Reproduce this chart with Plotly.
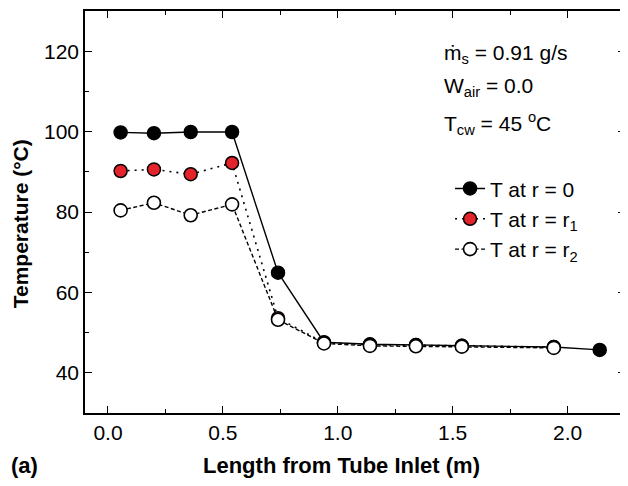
import plotly.graph_objects as go

# Data
x_len = [0.055, 0.2, 0.36, 0.54, 0.74, 0.94, 1.14, 1.34, 1.54, 1.94, 2.14]
t_r0 = [99.8, 99.6, 99.9, 99.9, 64.9, 47.6, 47.1, 46.9, 46.7, 46.4, 45.7]
x_r1 = [0.055, 0.2, 0.36, 0.54, 0.74, 0.94, 1.14, 1.34, 1.54, 1.94]
t_r1 = [90.2, 90.6, 89.4, 92.2, 53.6, 47.5, 47.0, 46.9, 46.7, 46.4]
x_r2 = [0.055, 0.2, 0.36, 0.54, 0.74, 0.94, 1.14, 1.34, 1.54, 1.94]
t_r2 = [80.4, 82.3, 79.2, 81.9, 53.2, 47.3, 46.7, 46.6, 46.5, 46.2]

x_ticks = [0.0, 0.5, 1.0, 1.5, 2.0]
x_ticklabels = ["0.0", "0.5", "1.0", "1.5", "2.0"]
y_ticks = [40, 60, 80, 100, 120]
y_ticklabels = ["40", "60", "80", "100", "120"]

FONT = "Liberation Sans, Arial, Helvetica, sans-serif"

fig = go.Figure()
fig.add_trace(go.Scatter(
    x=x_len, y=t_r0, mode="lines+markers", name="T at r = 0",
    line=dict(color="black", width=1.4),
    marker=dict(symbol="circle", size=13, color="black", line=dict(color="black", width=1.5)),
))
fig.add_trace(go.Scatter(
    x=x_r1, y=t_r1, mode="lines+markers", name="T at r = r<sub>1</sub>",
    line=dict(color="black", width=1.6, dash="2px,5px"),
    marker=dict(symbol="circle", size=13, color="#e5232a", line=dict(color="black", width=1.5)),
))
fig.add_trace(go.Scatter(
    x=x_r2, y=t_r2, mode="lines+markers", name="T at r = r<sub>2</sub>",
    line=dict(color="black", width=1.4, dash="4px,2.5px"),
    marker=dict(symbol="circle", size=13, color="white", line=dict(color="black", width=1.6)),
))

axis_common = dict(
    showline=True, linecolor="black", linewidth=1.5, mirror="ticks",
    ticks="inside", ticklen=7, tickwidth=1.3, tickcolor="black",
    showgrid=False, zeroline=False,
    tickfont=dict(family=FONT, size=21, color="black"),
)

fig.update_xaxes(
    range=[-0.1, 2.25], tickvals=x_ticks, ticktext=x_ticklabels,
    minor=dict(dtick=0.25, tick0=0, ticks="inside", ticklen=4, tickwidth=1.2, tickcolor="black"),
    **axis_common,
)
fig.update_yaxes(
    range=[30, 130], tickvals=y_ticks, ticktext=y_ticklabels,
    minor=dict(dtick=10, tick0=30, ticks="inside", ticklen=4, tickwidth=1.2, tickcolor="black"),
    **axis_common,
)

ann_font = dict(family=FONT, size=21, color="black")
fig.add_annotation(xref="paper", yref="paper", x=0.662, y=0.894, xanchor="left", yanchor="middle",
                   text="ṁ<sub>s</sub> = 0.91 g/s", showarrow=False, font=ann_font)
fig.add_annotation(xref="paper", yref="paper", x=0.662, y=0.812, xanchor="left", yanchor="middle",
                   text="W<sub>air</sub> = 0.0", showarrow=False, font=ann_font)
fig.add_annotation(xref="paper", yref="paper", x=0.662, y=0.721, xanchor="left", yanchor="middle",
                   text="T<sub>cw</sub> = 45 <sup>o</sup>C", showarrow=False, font=ann_font)

title_font = dict(family=FONT, size=22, color="black", weight="bold")
fig.add_annotation(xref="paper", yref="paper", x=0.475, y=-0.131, xanchor="center", yanchor="middle",
                   text="<b>Length from Tube Inlet (m)</b>", showarrow=False, font=title_font)
fig.add_annotation(xref="paper", yref="paper", x=-0.12, y=0.47, xanchor="center", yanchor="middle",
                   text="<b>Temperature (°C)</b>", textangle=-90, showarrow=False,
                   font=dict(family=FONT, size=21, color="black", weight="bold"))
fig.add_annotation(xref="paper", yref="paper", x=-0.14, y=-0.131, xanchor="left", yanchor="middle",
                   text="<b>(a)</b>", showarrow=False, font=title_font)

# page body has an 8px margin, so the figure is sized to fit the window
fig.update_layout(
    width=620, height=478,
    margin=dict(l=77, r=1, t=1, b=73),
    paper_bgcolor="white", plot_bgcolor="white",
    showlegend=True,
    legend=dict(x=0.676, y=0.483, xanchor="left", yanchor="middle",
                bgcolor="rgba(0,0,0,0)", borderwidth=0,
                font=dict(family=FONT, size=21, color="black"),
                itemwidth=30),
    font=dict(family=FONT, color="black"),
)

fig.write_html("out.html")
